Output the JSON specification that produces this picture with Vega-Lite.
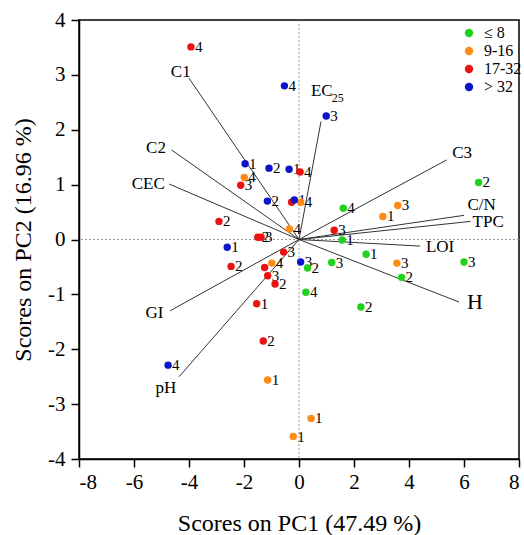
{
  "$schema": "https://vega.github.io/schema/vega-lite/v6.json",
  "width": 440,
  "height": 439,
  "autosize": {"type": "none"},
  "padding": {"left": 79, "top": 20, "right": 5, "bottom": 76},
  "config": {
    "font": "Liberation Serif",
    "view": {"stroke": "black", "strokeWidth": 1.5},
    "axis": {
      "grid": false,
      "domainColor": "black",
      "domainWidth": 1.5,
      "tickColor": "black",
      "tickWidth": 1.5,
      "tickSize": 8,
      "labelFont": "Liberation Serif",
      "labelFontSize": 21,
      "labelColor": "black",
      "titleFont": "Liberation Serif",
      "titleFontSize": 24,
      "titleFontWeight": "normal",
      "titleColor": "black"
    }
  },
  "datasets": {
    "scores": [
      {"pc1": 1.61, "pc2": 0.57, "grp": "≤ 8", "lab": "4"},
      {"pc1": 1.57, "pc2": -0.01, "grp": "≤ 8", "lab": "1"},
      {"pc1": 0.31, "pc2": -0.52, "grp": "≤ 8", "lab": "2"},
      {"pc1": 1.19, "pc2": -0.42, "grp": "≤ 8", "lab": "3"},
      {"pc1": 0.25, "pc2": -0.96, "grp": "≤ 8", "lab": "4"},
      {"pc1": 2.44, "pc2": -0.27, "grp": "≤ 8", "lab": "1"},
      {"pc1": 6.53, "pc2": 1.04, "grp": "≤ 8", "lab": "2"},
      {"pc1": 6.0, "pc2": -0.41, "grp": "≤ 8", "lab": "3"},
      {"pc1": 3.73, "pc2": -0.69, "grp": "≤ 8", "lab": "2"},
      {"pc1": 2.25, "pc2": -1.23, "grp": "≤ 8", "lab": "2"},
      {"pc1": -1.99, "pc2": 1.13, "grp": "9-16", "lab": "4"},
      {"pc1": 0.06, "pc2": 0.68, "grp": "9-16", "lab": "4"},
      {"pc1": -0.35, "pc2": 0.19, "grp": "9-16", "lab": "4"},
      {"pc1": -0.99, "pc2": -0.43, "grp": "9-16", "lab": "4"},
      {"pc1": 3.59, "pc2": 0.62, "grp": "9-16", "lab": "3"},
      {"pc1": 3.05, "pc2": 0.42, "grp": "9-16", "lab": "1"},
      {"pc1": 3.56, "pc2": -0.43, "grp": "9-16", "lab": "3"},
      {"pc1": -1.14, "pc2": -2.56, "grp": "9-16", "lab": "1"},
      {"pc1": 0.44, "pc2": -3.26, "grp": "9-16", "lab": "1"},
      {"pc1": -0.21, "pc2": -3.59, "grp": "9-16", "lab": "1"},
      {"pc1": -3.93, "pc2": 3.51, "grp": "17-32", "lab": "4"},
      {"pc1": 0.04, "pc2": 1.23, "grp": "17-32", "lab": "4"},
      {"pc1": -2.12, "pc2": 0.99, "grp": "17-32", "lab": "3"},
      {"pc1": -0.27, "pc2": 0.68, "grp": "17-32", "lab": ""},
      {"pc1": -2.91, "pc2": 0.33, "grp": "17-32", "lab": "2"},
      {"pc1": -1.5, "pc2": 0.04, "grp": "17-32", "lab": "2"},
      {"pc1": -1.38, "pc2": 0.04, "grp": "17-32", "lab": "3"},
      {"pc1": 1.28, "pc2": 0.17, "grp": "17-32", "lab": "3"},
      {"pc1": -0.56, "pc2": -0.23, "grp": "17-32", "lab": "3"},
      {"pc1": -2.47, "pc2": -0.49, "grp": "17-32", "lab": "2"},
      {"pc1": -1.25, "pc2": -0.51, "grp": "17-32", "lab": ""},
      {"pc1": -1.14, "pc2": -0.66, "grp": "17-32", "lab": "3"},
      {"pc1": -0.87, "pc2": -0.81, "grp": "17-32", "lab": "2"},
      {"pc1": -1.54, "pc2": -1.17, "grp": "17-32", "lab": "1"},
      {"pc1": -1.3, "pc2": -1.85, "grp": "17-32", "lab": "2"},
      {"pc1": -0.53, "pc2": 2.8, "grp": "> 32", "lab": "4"},
      {"pc1": 0.99, "pc2": 2.25, "grp": "> 32", "lab": "3"},
      {"pc1": -1.96, "pc2": 1.38, "grp": "> 32", "lab": "1"},
      {"pc1": -1.09, "pc2": 1.3, "grp": "> 32", "lab": "2"},
      {"pc1": -0.36, "pc2": 1.28, "grp": "> 32", "lab": "1"},
      {"pc1": -1.15, "pc2": 0.7, "grp": "> 32", "lab": "2"},
      {"pc1": -0.17, "pc2": 0.72, "grp": "> 32", "lab": "1"},
      {"pc1": -2.61, "pc2": -0.14, "grp": "> 32", "lab": "1"},
      {"pc1": 0.06, "pc2": -0.41, "grp": "> 32", "lab": "3"},
      {"pc1": -4.76, "pc2": -2.29, "grp": "> 32", "lab": "4"}
    ],
    "loadings": [
      {"name": "C1", "ex": -4.0, "ey": 2.94},
      {"name": "C2", "ex": -4.63, "ey": 1.63},
      {"name": "CEC", "ex": -4.72, "ey": 1.01},
      {"name": "GI", "ex": -4.69, "ey": -1.3},
      {"name": "pH", "ex": -4.36, "ey": -2.5},
      {"name": "EC25", "ex": 0.8, "ey": 2.15},
      {"name": "C3", "ex": 5.37, "ey": 1.45},
      {"name": "C/N", "ex": 6.0, "ey": 0.44},
      {"name": "TPC", "ex": 6.24, "ey": 0.33},
      {"name": "LOI", "ex": 4.4, "ey": -0.12},
      {"name": "H", "ex": 5.82, "ey": -1.14}
    ],
    "varlabels": [
      {"text": "C1", "lx": -4.3, "ly": 3.06, "kind": "var"},
      {"text": "C2", "lx": -5.2, "ly": 1.67, "kind": "var"},
      {"text": "CEC", "lx": -5.48, "ly": 1.01, "kind": "var"},
      {"text": "GI", "lx": -5.26, "ly": -1.34, "kind": "var"},
      {"text": "pH", "lx": -4.84, "ly": -2.71, "kind": "var"},
      {"text": "EC", "lx": 0.83, "ly": 2.71, "kind": "var"},
      {"text": "25", "lx": 1.41, "ly": 2.57, "kind": "sub"},
      {"text": "C3", "lx": 5.93, "ly": 1.58, "kind": "var"},
      {"text": "C/N", "lx": 6.64, "ly": 0.62, "kind": "var"},
      {"text": "TPC", "lx": 6.88, "ly": 0.31, "kind": "var"},
      {"text": "LOI", "lx": 5.13, "ly": -0.13, "kind": "var"},
      {"text": "H", "lx": 6.4, "ly": -1.14, "kind": "big"}
    ]
  },
  "layer": [
    {
      "data": {"values": [{"v": 0}]},
      "mark": {"type": "rule", "color": "#999999", "strokeDash": [2, 2], "strokeWidth": 1},
      "encoding": {"x": {"field": "v", "type": "quantitative"}}
    },
    {
      "data": {"values": [{"v": 0}]},
      "mark": {"type": "rule", "color": "#999999", "strokeDash": [2, 2], "strokeWidth": 1},
      "encoding": {"y": {"field": "v", "type": "quantitative"}}
    },
    {
      "data": {"name": "loadings"},
      "mark": {"type": "rule", "color": "#333333", "strokeWidth": 1},
      "encoding": {
        "x": {"field": "ex", "type": "quantitative"},
        "y": {"field": "ey", "type": "quantitative"},
        "x2": {"datum": 0},
        "y2": {"datum": 0}
      }
    },
    {
      "data": {"name": "varlabels"},
      "transform": [{"filter": "datum.kind === 'var'"}],
      "mark": {"type": "text", "font": "Liberation Serif", "fontSize": 17, "color": "black", "align": "center", "baseline": "middle"},
      "encoding": {
        "x": {"field": "lx", "type": "quantitative"},
        "y": {"field": "ly", "type": "quantitative"},
        "text": {"field": "text"}
      }
    },
    {
      "data": {"name": "varlabels"},
      "transform": [{"filter": "datum.kind === 'sub'"}],
      "mark": {"type": "text", "font": "Liberation Serif", "fontSize": 12, "color": "black", "align": "center", "baseline": "middle"},
      "encoding": {
        "x": {"field": "lx", "type": "quantitative"},
        "y": {"field": "ly", "type": "quantitative"},
        "text": {"field": "text"}
      }
    },
    {
      "data": {"name": "varlabels"},
      "transform": [{"filter": "datum.kind === 'big'"}],
      "mark": {"type": "text", "font": "Liberation Serif", "fontSize": 22, "color": "black", "align": "center", "baseline": "middle"},
      "encoding": {
        "x": {"field": "lx", "type": "quantitative"},
        "y": {"field": "ly", "type": "quantitative"},
        "text": {"field": "text"}
      }
    },
    {
      "data": {"name": "scores"},
      "mark": {"type": "text", "font": "Liberation Serif", "fontSize": 15, "color": "black", "align": "left", "baseline": "middle", "dx": 4},
      "encoding": {
        "x": {"field": "pc1", "type": "quantitative"},
        "y": {"field": "pc2", "type": "quantitative"},
        "text": {"field": "lab"}
      }
    },
    {
      "data": {"name": "scores"},
      "mark": {"type": "point", "filled": true, "opacity": 1, "size": 55, "shape": "circle"},
      "encoding": {
        "x": {
          "field": "pc1", "type": "quantitative",
          "scale": {"domain": [-8, 8], "nice": false, "zero": false},
          "axis": {"values": [-8, -6, -4, -2, 0, 2, 4, 6, 8], "labelExpr": "'' + datum.value", "title": "Scores on PC1 (47.49 %)", "labelPadding": 4, "titlePadding": 19}
        },
        "y": {
          "field": "pc2", "type": "quantitative",
          "scale": {"domain": [-4, 4], "nice": false, "zero": false},
          "axis": {"values": [-4, -3, -2, -1, 0, 1, 2, 3, 4], "labelExpr": "'' + datum.value", "title": "Scores on PC2 (16.96 %)", "labelPadding": 6, "titlePadding": 12}
        },
        "color": {
          "field": "grp", "type": "nominal",
          "scale": {"domain": ["≤ 8", "9-16", "17-32", "> 32"], "range": ["#1ed21e", "#ff8a14", "#ee1111", "#0a14c8"]},
          "legend": {
            "title": null,
            "orient": "none",
            "legendX": 382,
            "legendY": 5,
            "symbolType": "circle",
            "symbolSize": 70,
            "symbolOpacity": 1,
            "labelFont": "Liberation Serif",
            "labelFontSize": 16,
            "labelColor": "black",
            "rowPadding": 2,
            "labelOffset": 7
          }
        }
      }
    }
  ]
}
